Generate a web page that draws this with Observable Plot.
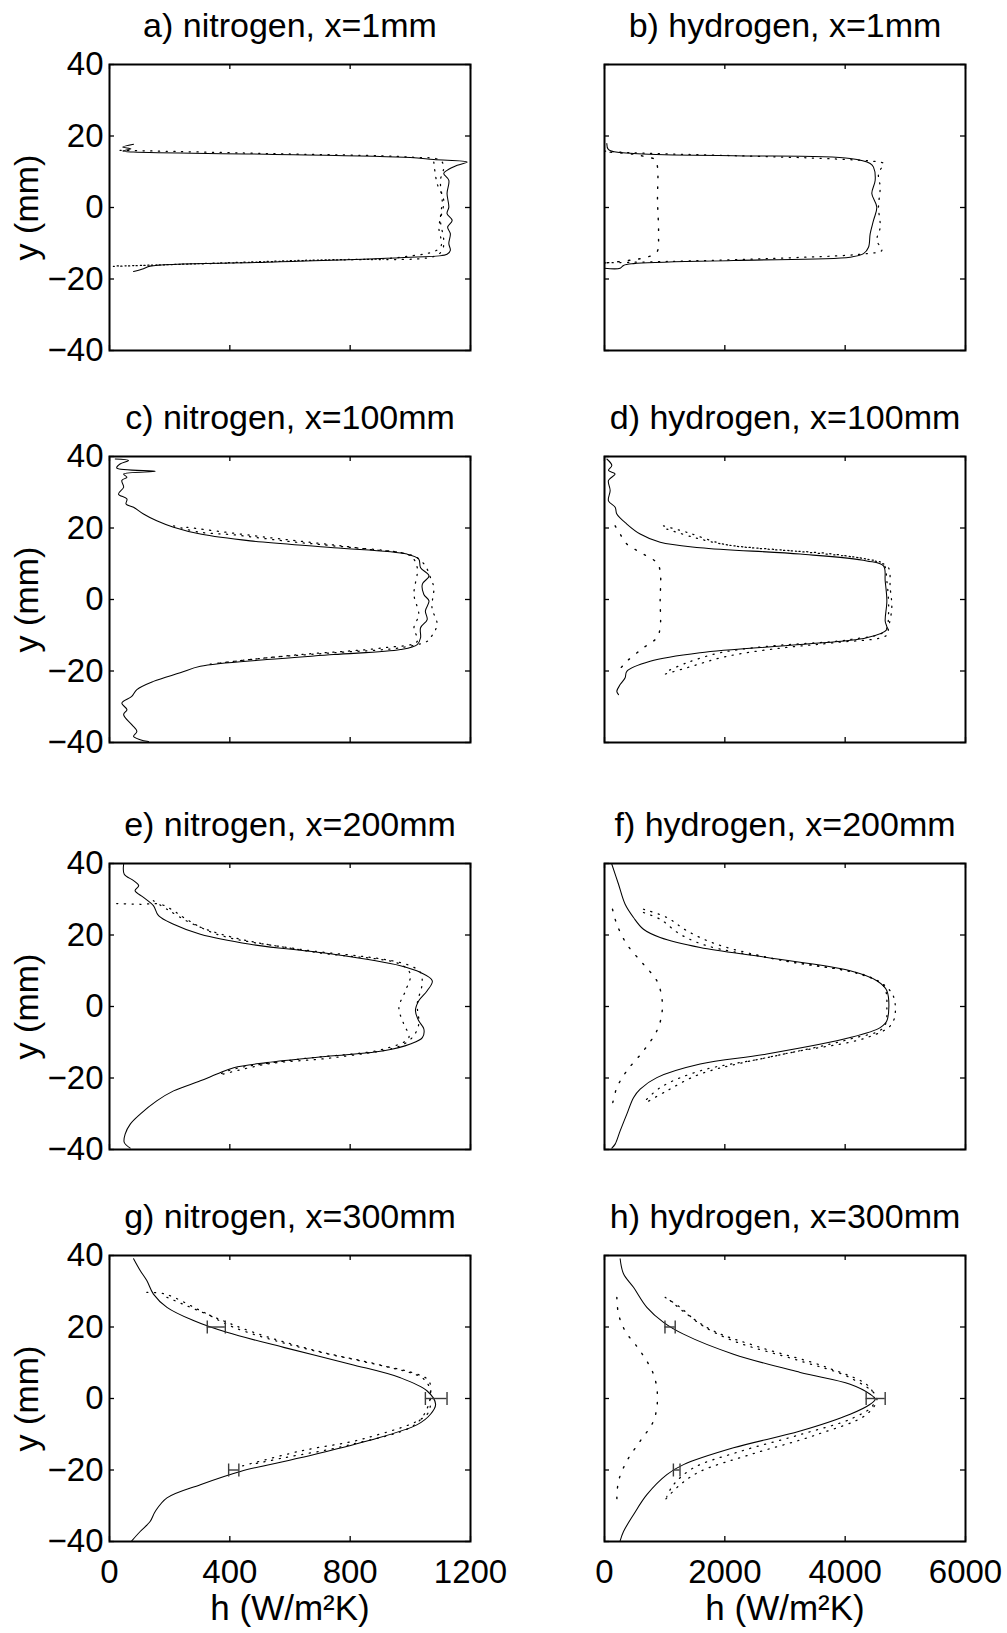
<!DOCTYPE html>
<html>
<head>
<meta charset="utf-8">
<script src="https://cdn.jsdelivr.net/npm/d3@7"></script>
<script src="https://cdn.jsdelivr.net/npm/@observablehq/plot@0.6"></script>
<style>
  html, body { margin: 0; padding: 0; background: #fff; }
  #fig { position: relative; width: 1007px; height: 1633px; background: #fff; overflow: hidden; }
  #fig svg { position: absolute; }
</style>
</head>
<body>
<div id="fig"></div>
<script>
// ---------- axis ticks / labels ----------
const nitrogenXTicks = [0, 400, 800, 1200];
const hydrogenXTicks = [0, 2000, 4000, 6000];
const yTicks = [-40, -20, 0, 20, 40];
const titles = [
  "a) nitrogen, x=1mm", "b) hydrogen, x=1mm",
  "c) nitrogen, x=100mm", "d) hydrogen, x=100mm",
  "e) nitrogen, x=200mm", "f) hydrogen, x=200mm",
  "g) nitrogen, x=300mm", "h) hydrogen, x=300mm"
];
const yLabel = "y (mm)";
const xLabel = "h (W/m²K)";

// ---------- data: [h (W/m2K), y (mm)] ----------
// a) nitrogen x=1mm
const aModel = [[80,17.7],[44,16.9],[71,16.4],[44,15.8],[80,15.5],[523,14.9],[1000,14.0],[1078,13.4],[1189,12.7],[1156,11.8],[1122,10.4],[1111,9.5],[1128,7.6],[1122,3.9],[1128,0.1],[1122,-1.7],[1139,-3.6],[1124,-5.5],[1133,-7.3],[1128,-10.1],[1133,-12.0],[1122,-13.1],[1000,-13.9],[523,-15.3],[135,-16.4],[113,-17.1],[80,-17.9]];
const aExp1 = [[35,16.0],[523,15.1],[1000,14.1],[1100,13.2],[1111,11.3],[1100,7.6],[1106,2.0],[1100,-3.6],[1111,-9.2],[1106,-12.0],[1078,-13.7],[745,-14.6],[413,-15.5],[6,-16.4]];
const aExp2 = [[1078,12.7],[1089,6.7],[1111,2.0],[1095,-5.5],[1100,-11.1],[967,-13.9],[634,-14.8],[302,-15.7],[13,-16.5]];

// b) hydrogen x=1mm
const bModel = [[39,17.9],[66,16.2],[482,15.1],[2144,14.5],[4083,13.7],[4416,12.3],[4471,11.3],[4499,7.6],[4443,3.9],[4526,0.1],[4471,-3.6],[4416,-7.3],[4388,-11.1],[4305,-12.9],[4083,-13.9],[2144,-14.8],[482,-15.7],[316,-16.2],[260,-17.0],[0,-17.0]];
const bExp1 = [[0,15.8],[482,15.3],[2144,14.5],[3806,13.6],[4526,12.8],[4637,12.3],[4554,9.5],[4582,5.7],[4554,0.1],[4582,-5.5],[4526,-9.2],[4609,-12.0],[4360,-12.9],[2698,-14.3],[1036,-15.1],[0,-15.5]];
const bInner = [[94,15.5],[482,14.9],[704,14.1],[842,13.4],[881,11.3],[881,2.0],[898,-7.3],[870,-12.5],[704,-13.9],[482,-14.6],[150,-15.3],[0,-15.5]];

// c) nitrogen x=100mm
const cModel = [[19,39.3],[63,38.9],[35,37.9],[24,36.8],[152,35.9],[47,35.1],[58,34.2],[41,33.3],[47,31.4],[30,29.5],[58,28.1],[55,26.7],[80,25.8],[113,23.9],[157,22.0],[213,20.2],[302,18.3],[468,16.4],[745,14.5],[989,12.7],[1028,11.3],[1034,8.9],[1062,6.6],[1040,4.3],[1045,1.4],[1062,-0.4],[1050,-3.2],[1056,-5.6],[1034,-7.9],[1034,-10.7],[1023,-12.6],[967,-14.0],[745,-15.4],[523,-16.8],[302,-18.7],[235,-20.5],[146,-22.9],[91,-25.2],[74,-27.1],[41,-29.0],[58,-30.8],[47,-32.2],[74,-35.0],[91,-36.9],[80,-38.3],[102,-39.2],[130,-39.7]];
const cExp1 = [[213,20.6],[302,18.8],[412,18.1],[579,16.4],[745,15.0],[967,13.1],[1023,11.7],[1050,9.4],[1067,6.1],[1078,3.3],[1072,-2.3],[1089,-7.0],[1067,-10.7],[1056,-11.7],[967,-13.5],[745,-14.9],[523,-16.3],[346,-18.0]];
const cExp2 = [[257,20.2],[523,17.4],[856,14.1],[1000,12.2],[1023,8.9],[1012,1.4],[1028,-4.2],[1012,-7.9],[1023,-11.7],[912,-13.5],[634,-15.4],[412,-17.3],[324,-18.2]];

// d) hydrogen x=100mm
const dModel = [[39,39.3],[122,37.5],[66,36.1],[177,35.1],[66,33.3],[94,30.5],[66,27.6],[177,25.8],[205,23.9],[371,21.1],[593,18.3],[925,16.0],[1590,14.5],[3252,12.7],[4360,10.8],[4637,9.4],[4665,5.2],[4693,-0.4],[4665,-6.0],[4693,-8.4],[4360,-10.7],[3252,-12.6],[1590,-14.9],[759,-17.3],[371,-20.1],[343,-21.9],[260,-23.8],[205,-25.7],[233,-26.6]];
const dExp1 = [[980,20.6],[1368,18.8],[1978,15.5],[2698,14.1],[3806,12.7],[4582,10.3],[4720,8.9],[4748,3.3],[4775,-2.3],[4720,-7.9],[4693,-10.0],[3806,-12.1],[2975,-13.5],[2033,-15.9],[1368,-19.1],[980,-21.0]];
const dExp2 = [[1036,19.7],[1479,17.4],[2033,15.3],[3252,13.4],[4360,11.3],[4637,9.9],[4693,5.2],[4720,-4.2],[4665,-8.8],[4083,-11.2],[2698,-13.1],[1922,-14.9],[1368,-17.7],[1036,-20.1]];
const dInner = [[177,20.6],[260,18.3],[371,15.5],[648,12.7],[870,10.3],[925,8.0],[925,-0.4],[925,-7.9],[870,-10.7],[648,-13.5],[371,-17.3],[205,-20.5]];

// e) nitrogen x=200mm
const eModel = [[47,39.8],[49,37.0],[80,35.2],[97,33.8],[85,32.4],[113,30.5],[146,28.2],[163,25.4],[213,23.0],[302,20.2],[468,17.4],[745,14.6],[967,11.4],[1034,9.5],[1073,7.2],[1056,4.4],[1028,1.6],[1017,-1.2],[1028,-4.0],[1045,-6.3],[1040,-8.7],[1000,-10.5],[912,-12.4],[745,-13.8],[523,-15.7],[413,-17.1],[357,-18.9],[302,-20.8],[213,-23.6],[157,-26.4],[102,-30.1],[69,-32.9],[52,-35.7],[49,-38.0],[69,-39.6]];
const eExp1 = [[24,28.8],[102,28.6],[169,28.6],[213,26.8],[246,24.9],[357,20.2],[634,16.0],[912,13.2],[1000,11.4],[1034,9.5],[1039,6.2],[1023,0.7],[1028,-4.9],[1011,-8.2],[967,-11.0],[745,-14.3],[523,-16.1],[357,-19.4]];
const eExp2 = [[146,29.6],[191,27.2],[279,23.0],[412,19.3],[690,15.1],[967,11.8],[1000,9.0],[984,4.4],[962,-0.3],[978,-4.9],[995,-8.7],[912,-11.9],[634,-14.7],[413,-17.5],[368,-18.9]];

// f) hydrogen x=200mm
const fModel = [[122,39.8],[233,34.2],[343,28.6],[482,24.9],[648,21.6],[925,19.3],[1590,16.5],[2698,13.7],[4083,10.0],[4526,7.2],[4693,4.4],[4693,-4.0],[4582,-5.9],[4083,-8.7],[2698,-13.3],[1590,-16.1],[870,-19.9],[593,-23.1],[482,-25.5],[371,-30.1],[260,-34.8],[177,-38.5],[122,-39.6]];
const fExp1 = [[648,27.2],[1036,24.9],[1368,21.2],[1867,17.4],[2975,12.8],[4360,8.6],[4748,4.4],[4831,0.7],[4775,-4.9],[4360,-8.7],[2975,-13.3],[1590,-18.9],[1036,-23.6],[648,-27.3]];
const fExp2 = [[648,26.3],[925,24.4],[1257,20.2],[1701,17.0],[2698,13.7],[4249,9.0],[4637,5.8],[4693,-0.3],[4637,-5.9],[4083,-9.1],[2698,-14.3],[1590,-18.0],[925,-22.7],[648,-26.9]];
const fInner = [[133,27.2],[205,23.0],[371,17.4],[648,11.8],[870,7.2],[953,2.5],[953,-2.1],[870,-6.8],[648,-12.4],[371,-18.0],[205,-22.7],[133,-27.3]];

// g) nitrogen x=300mm
const gModel = [[80,39.1],[102,35.8],[124,33.0],[146,29.2],[191,25.5],[279,21.8],[390,18.5],[579,14.3],[801,9.6],[967,5.8],[1056,2.1],[1084,-1.6],[1067,-4.4],[1023,-7.3],[856,-11.9],[634,-16.6],[435,-20.4],[302,-24.1],[191,-27.8],[152,-31.6],[135,-34.4],[102,-37.2],[74,-39.8]];
const gExp1 = [[124,29.7],[185,29.2],[302,24.6],[413,19.9],[634,14.3],[856,10.1],[1023,6.8],[1062,4.9],[1067,0.2],[1056,-4.4],[856,-11.0],[634,-14.7],[435,-19.0]];
const gExp2 = [[191,28.3],[324,23.6],[479,18.5],[690,13.3],[912,9.1],[1045,5.4],[1067,1.2],[1023,-6.8],[801,-12.9],[579,-16.6],[468,-18.5]];
const gErrY = [20, 0, -20];
const gErrH = [355, 1086, 413];
const gErrE = [30, 36, 17];

// h) hydrogen x=300mm
const hModel = [[260,39.1],[316,34.9],[482,31.1],[704,25.5],[981,21.3],[1313,18.0],[2144,12.4],[3252,7.3],[4083,4.0],[4416,1.2],[4499,-0.2],[4416,-1.6],[4083,-4.4],[3252,-9.1],[2144,-13.8],[1313,-18.5],[1036,-21.3],[704,-26.9],[482,-32.5],[316,-37.2],[260,-39.8]];
const hExp1 = [[1008,28.3],[1258,25.5],[1590,20.8],[2144,16.1],[3252,10.5],[4083,5.8],[4526,0.2],[4360,-4.4],[3529,-10.1],[2421,-15.7],[1590,-20.4],[1258,-24.1],[1008,-28.3]];
const hExp2 = [[1091,27.4],[1369,23.6],[1812,18.9],[2587,14.3],[3695,8.7],[4415,3.0],[4471,-1.6],[4138,-5.4],[3252,-10.1],[2255,-14.8],[1479,-19.4],[1147,-24.1],[1036,-27.4]];
const hInner = [[205,28.3],[233,23.6],[343,18.9],[593,13.3],[814,6.8],[881,0.2],[814,-6.3],[593,-11.9],[371,-17.5],[233,-23.1],[205,-28.3]];
const hErrY = [20, 0, -20];
const hErrH = [1090, 4507, 1200];
const hErrE = [85, 158, 55];

// ---------- panel specs ----------
const panels = [
  {model: aModel, exp: [aExp1, aExp2], inner: null, err: null},
  {model: bModel, exp: [bExp1], inner: bInner, err: null},
  {model: cModel, exp: [cExp1, cExp2], inner: null, err: null},
  {model: dModel, exp: [dExp1, dExp2], inner: dInner, err: null},
  {model: eModel, exp: [eExp1, eExp2], inner: null, err: null},
  {model: fModel, exp: [fExp1, fExp2], inner: fInner, err: null},
  {model: gModel, exp: [gExp1, gExp2], inner: null, err: [gErrY, gErrH, gErrE]},
  {model: hModel, exp: [hExp1, hExp2], inner: hInner, err: [hErrY, hErrH, hErrE]}
];

// ---------- layout ----------
const FW = 361, FH = 286;
const frameLeft = [109, 604];
const svgLeft = [0, 500];
const svgWidth = [500, 507];
const frameTop = [64, 456, 863, 1255];
const svgTop = [0, 392, 799, 1191];
const svgBottom = [392, 799, 1191, 1633];
const FONT = "'Liberation Sans', Arial, Helvetica, sans-serif";

const capSymbol = {
  draw(ctx, size) {
    const h = Math.sqrt(size / Math.PI);
    ctx.moveTo(0, -h); ctx.lineTo(0, h);
  }
};
const fmt = d => d < 0 ? "\u2212" + Math.abs(d) : String(d);

const fig = document.getElementById("fig");

panels.forEach((p, i) => {
  const col = i % 2, row = Math.floor(i / 2);
  const mL = frameLeft[col] - svgLeft[col];
  const mR = svgWidth[col] - mL - FW;
  const mT = frameTop[row] - svgTop[row];
  const H = svgBottom[row] - svgTop[row];
  const mB = H - mT - FH;
  const xt = col === 0 ? nitrogenXTicks : hydrogenXTicks;
  const xd = [xt[0], xt[xt.length - 1]];

  const marks = [];
  // inward tick marks on all four sides
  marks.push(Plot.ruleX(xt, {insetTop: FH - 5, stroke: "black", strokeWidth: 1.3}));
  marks.push(Plot.ruleX(xt, {insetBottom: FH - 5, stroke: "black", strokeWidth: 1.3}));
  marks.push(Plot.ruleY(yTicks, {insetLeft: FW - 5, stroke: "black", strokeWidth: 1.3}));
  marks.push(Plot.ruleY(yTicks, {insetRight: FW - 5, stroke: "black", strokeWidth: 1.3}));

  // dotted experimental series
  const dotted = {x: d => d[0], y: d => d[1], stroke: "black", strokeWidth: 1.25, strokeDasharray: "1.2,6.5", curve: "catmull-rom"};
  if (p.inner) marks.push(Plot.line(p.inner, {...dotted, strokeWidth: 1.4, strokeDasharray: "1.5,9"}));
  p.exp.forEach(s => marks.push(Plot.line(s, dotted)));
  // solid model line
  marks.push(Plot.line(p.model, {x: d => d[0], y: d => d[1], stroke: "black", strokeWidth: 1.05, curve: "catmull-rom"}));

  // error bars
  if (p.err) {
    const [ey, eh, ee] = p.err;
    const idx = d3.range(ey.length);
    marks.push(Plot.ruleY(idx, {y: k => ey[k], x1: k => eh[k] - ee[k], x2: k => eh[k] + ee[k], stroke: "#3a3a3a", strokeWidth: 1.4}));
    marks.push(Plot.dot(idx, {y: k => ey[k], x: k => eh[k] - ee[k], symbol: capSymbol, r: 6.5, stroke: "#3a3a3a", strokeWidth: 1.4, fill: "none"}));
    marks.push(Plot.dot(idx, {y: k => ey[k], x: k => eh[k] + ee[k], symbol: capSymbol, r: 6.5, stroke: "#3a3a3a", strokeWidth: 1.4, fill: "none"}));
  }

  marks.push(Plot.frame({stroke: "black", strokeWidth: 2}));

  // title
  marks.push(Plot.text([titles[i]], {frameAnchor: "top", dy: -38, lineAnchor: "middle", textAnchor: "middle", fontSize: 34, fill: "black"}));

  if (col === 0) {
    marks.push(Plot.axisY(yTicks, {anchor: "left", tickSize: 0, tickPadding: 6, fontSize: 33, label: null, tickFormat: fmt, fill: "black"}));
    marks.push(Plot.text([yLabel], {frameAnchor: "left", dx: -82, rotate: -90, lineAnchor: "middle", textAnchor: "middle", fontSize: 34, fill: "black"}));
  }
  if (row === 3) {
    marks.push(Plot.axisX(xt, {anchor: "bottom", tickSize: 0, tickPadding: 18, fontSize: 33, label: null, tickFormat: d => String(d), fill: "black"}));
    marks.push(Plot.text([xLabel], {frameAnchor: "bottom", dy: 67, lineAnchor: "middle", textAnchor: "middle", fontSize: 35, fill: "black"}));
  }

  const svg = Plot.plot({
    width: svgWidth[col],
    height: H,
    marginLeft: mL, marginRight: mR, marginTop: mT, marginBottom: mB,
    x: {domain: xd, axis: null},
    y: {domain: [-40, 40], axis: null},
    style: {fontFamily: FONT, fontSize: "33px", background: "transparent", color: "black", overflow: "visible"},
    marks
  });
  svg.style.left = svgLeft[col] + "px";
  svg.style.top = svgTop[row] + "px";
  fig.appendChild(svg);
});
</script>
</body>
</html>
